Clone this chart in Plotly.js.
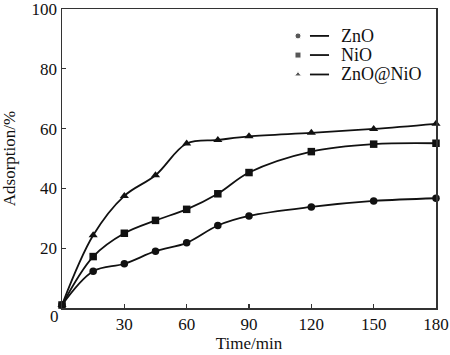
<!DOCTYPE html>
<html>
<head>
<meta charset="utf-8">
<script src="https://cdn.plot.ly/plotly-3.0.1.min.js"></script>
<style>html,body{margin:0;padding:0;background:#fff;}#chart{width:450px;height:355px;}</style>
</head>
<body>
<div id="chart"></div>
<script>
const time = [0, 15, 30, 45, 60, 75, 90, 120, 150, 180];
const zno = [1, 12.3, 14.8, 19, 21.8, 27.6, 30.8, 33.8, 35.8, 36.7];
const nio = [1, 17.2, 25, 29.3, 33, 38.2, 45.3, 52.3, 54.8, 55.1];
const znoNio = [1, 24.3, 37.5, 44.4, 55, 56.2, 57.4, 58.6, 59.9, 61.6];
const names = ['ZnO', 'NiO', 'ZnO@NiO'];
const symbols = ['circle', 'square', 'triangle-up'];
const xTicks = [30, 60, 90, 120, 150, 180];
const yTicks = [20, 40, 60, 80, 100];

const font = {family: 'Liberation Serif, Times New Roman, serif', size: 17, color: '#111'};
const legFont = {family: 'Liberation Serif, Times New Roman, serif', size: 18, color: '#111'};
const series = [zno, nio, znoNio];
const traces = series.map((ys, i) => ({
  x: time, y: ys, name: names[i], type: 'scatter', mode: 'lines+markers',
  line: {color: '#111', width: 1.8, shape: 'spline', smoothing: 1},
  marker: {symbol: symbols[i], size: i === 2 ? 8 : 7.5, color: '#111'},
  showlegend: false, cliponaxis: false
}));

// legend keys (drawn on a hidden overlay axis)
const legY = [0.910, 0.846, 0.781];
traces.push({
  x: [0.631, 0.631, 0.631], y: legY, xaxis: 'x2', yaxis: 'y2', type: 'scatter', mode: 'markers',
  marker: {symbol: symbols, size: [6, 6, 6], color: '#111'}, showlegend: false, hoverinfo: 'skip'
});
const shapes = legY.map(y => ({type: 'line', xref: 'paper', yref: 'paper', x0: 0.663, x1: 0.714, y0: y, y1: y, line: {color: '#111', width: 1.8}}));
const annotations = legY.map((y, i) => ({xref: 'paper', yref: 'paper', x: 0.741, y: y, xanchor: 'left', yanchor: 'middle', text: names[i], showarrow: false, font: legFont}));
annotations.push({xref: 'paper', yref: 'paper', x: -0.02, y: -0.03, xanchor: 'center', yanchor: 'middle', text: '0', showarrow: false, font: font});

const layout = {
  width: 450, height: 355,
  margin: {l: 62, r: 14, t: 9, b: 47},
  paper_bgcolor: '#fff', plot_bgcolor: '#fff',
  font: font,
  xaxis: {range: [0, 180], tickvals: xTicks, ticktext: xTicks.map(String), ticks: 'inside', ticklen: 4, tickcolor: '#333', tickwidth: 1.2,
    showline: true, mirror: true, linecolor: '#333', linewidth: 1.5, showgrid: false, zeroline: false, ticklabeloverflow: 'allow',
    tickfont: font, title: {text: 'Time/min', font: font, standoff: 4}},
  yaxis: {range: [0, 100], tickvals: yTicks, ticktext: yTicks.map(String), ticks: 'inside', ticklen: 4, tickcolor: '#333', tickwidth: 1.2,
    showline: true, mirror: true, linecolor: '#333', linewidth: 1.5, showgrid: false, zeroline: false, ticklabeloverflow: 'allow',
    tickfont: font, title: {text: 'Adsorption/%', font: font, standoff: 18}},
  xaxis2: {overlaying: 'x', range: [0, 1], visible: false, fixedrange: true},
  yaxis2: {overlaying: 'y', range: [0, 1], visible: false, fixedrange: true},
  shapes: shapes, annotations: annotations, showlegend: false
};
Plotly.newPlot('chart', traces, layout, {staticPlot: true});
</script>
</body>
</html>
